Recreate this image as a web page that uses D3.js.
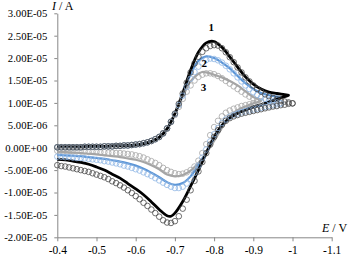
<!DOCTYPE html>
<html><head><meta charset="utf-8">
<script src="https://cdn.jsdelivr.net/npm/d3@7"></script>
<style>html,body{margin:0;padding:0;background:#fff}svg{display:block}</style>
</head><body>
<svg id="c" width="350" height="255"></svg>
<script>
// ---- tick labels ----
const xTickVals = [-0.4,-0.5,-0.6,-0.7,-0.8,-0.9,-1.0,-1.1];
const xTickLabels = ["-0.4","-0.5","-0.6","-0.7","-0.8","-0.9","-1","-1.1"];
const yTickVals = [30,25,20,15,10,5,0,-5,-10,-15,-20]; // in µA
const yTickLabels = ["3.00E-05","2.50E-05","2.00E-05","1.50E-05","1.00E-05","5.00E-06","0.00E+00","-5.00E-06","-1.00E-05","-1.50E-05","-2.00E-05"];
const seriesNames = ["1","2","3"];

// ---- experimental curves (lines): [E / V, I / µA], forward then reverse ----
const blackLine = [[-0.40,0.2],[-0.42,0.2],[-0.44,0.2],[-0.46,0.2],[-0.48,0.3],[-0.50,0.3],[-0.52,0.3],[-0.54,0.4],[-0.56,0.4],[-0.58,0.5],[-0.60,0.6],[-0.62,0.9],[-0.64,1.4],[-0.66,2.3],[-0.68,4.2],[-0.70,7.6],[-0.72,12.2],[-0.74,17.3],[-0.76,21.3],[-0.78,23.4],[-0.80,23.7],[-0.82,22.4],[-0.84,20.3],[-0.86,18.0],[-0.88,15.8],[-0.90,14.2],[-0.92,13.1],[-0.94,12.4],[-0.96,12.1],[-0.98,11.85],[-0.99,11.7],
 [-0.98,11.4],[-0.96,10.8],[-0.94,10.2],[-0.92,9.6],[-0.90,9.1],[-0.88,8.4],[-0.86,7.7],[-0.84,6.6],[-0.82,5.0],[-0.80,2.4],[-0.78,-1.2],[-0.76,-5.0],[-0.74,-8.6],[-0.72,-12.0],[-0.70,-14.6],[-0.69,-15.3],[-0.68,-15.2],[-0.66,-13.8],[-0.64,-12.1],[-0.62,-10.5],[-0.60,-9.2],[-0.58,-8.0],[-0.56,-6.8],[-0.54,-5.9],[-0.52,-5.0],[-0.50,-4.3],[-0.48,-3.7],[-0.46,-3.3],[-0.44,-3.0],[-0.42,-2.7],[-0.40,-2.6]];
const blueLine = [[-0.40,0.2],[-0.42,0.2],[-0.44,0.2],[-0.46,0.2],[-0.48,0.3],[-0.50,0.3],[-0.52,0.3],[-0.54,0.4],[-0.56,0.4],[-0.58,0.5],[-0.60,0.6],[-0.62,0.9],[-0.64,1.4],[-0.66,2.3],[-0.68,4.2],[-0.70,7.6],[-0.72,12.0],[-0.74,16.4],[-0.76,19.4],[-0.78,20.4],[-0.80,20.0],[-0.82,19.0],[-0.84,17.7],[-0.86,16.0],[-0.88,14.4],[-0.90,13.1],[-0.92,12.2],[-0.94,11.7],[-0.96,11.4],[-0.97,11.2],
 [-0.96,10.9],[-0.94,10.3],[-0.92,9.7],[-0.90,9.2],[-0.88,8.6],[-0.86,7.9],[-0.84,6.8],[-0.82,5.0],[-0.80,2.2],[-0.78,-1.0],[-0.76,-3.9],[-0.74,-6.4],[-0.72,-7.9],[-0.70,-8.3],[-0.68,-7.7],[-0.66,-6.6],[-0.64,-5.6],[-0.62,-4.7],[-0.60,-4.0],[-0.58,-3.5],[-0.56,-3.1],[-0.54,-2.8],[-0.52,-2.5],[-0.50,-2.3],[-0.48,-2.1],[-0.46,-1.9],[-0.44,-1.8],[-0.42,-1.7],[-0.40,-1.6]];
const grayLine = [[-0.40,0.2],[-0.42,0.2],[-0.44,0.2],[-0.46,0.2],[-0.48,0.3],[-0.50,0.3],[-0.52,0.3],[-0.54,0.4],[-0.56,0.4],[-0.58,0.5],[-0.60,0.6],[-0.62,0.9],[-0.64,1.4],[-0.66,2.3],[-0.68,4.2],[-0.70,7.5],[-0.72,11.4],[-0.74,14.8],[-0.76,16.5],[-0.77,16.9],[-0.78,16.8],[-0.80,16.3],[-0.82,15.7],[-0.84,14.9],[-0.86,13.9],[-0.88,12.6],[-0.90,11.3],[-0.92,10.5],
 [-0.90,9.9],[-0.88,9.2],[-0.86,8.4],[-0.84,6.9],[-0.82,4.4],[-0.80,1.5],[-0.78,-1.2],[-0.76,-3.4],[-0.74,-5.1],[-0.72,-6.1],[-0.70,-6.4],[-0.68,-6.0],[-0.66,-4.8],[-0.64,-3.9],[-0.62,-3.2],[-0.60,-2.7],[-0.58,-2.4],[-0.56,-2.1],[-0.54,-1.9],[-0.52,-1.7],[-0.50,-1.5],[-0.48,-1.35],[-0.46,-1.2],[-0.44,-1.1],[-0.42,-1.0],[-0.40,-0.9]];

// ---- simulated curves (open circles) ----
const simE = [-0.40,-0.41,-0.42,-0.43,-0.44,-0.45,-0.46,-0.47,-0.48,-0.49,-0.50,-0.51,-0.52,-0.53,-0.54,-0.55,-0.56,-0.57,-0.58,-0.59,-0.60,-0.61,-0.62,-0.63,-0.64,-0.65,-0.66,-0.67,-0.68,-0.69,-0.70,-0.71,-0.72,-0.73,-0.74,-0.75,-0.76,-0.77,-0.78,-0.79,-0.80,-0.81,-0.82,-0.83,-0.84,-0.85,-0.86,-0.87,-0.88,-0.89,-0.90,-0.91,-0.92,-0.93,-0.94,-0.95,-0.96,-0.97,-0.98,-0.99,-1.00];
// forward: from -0.40 outwards; reverse: from switching potential back to -0.40 (µA)
const blackSimFwd = [0.1,0.1,0.1,0.1,0.1,0.1,0.1,0.2,0.2,0.2,0.2,0.2,0.3,0.3,0.3,0.4,0.4,0.5,0.5,0.6,0.7,0.8,1.0,1.2,1.5,1.9,2.4,3.2,4.3,
 5.8,7.6,9.8,12.1,14.5,16.8,18.8,20.3,21.4,22.2,22.7,22.9,22.8,22.2,21.3,20.2,19.1,17.9,16.8,15.7,14.8,13.9,13.1,12.5,11.9,11.5,11.1,10.8,10.5,10.3,10.1,9.9];
const blackSimRev = [9.9,9.8,9.6,9.5,9.3,9.2,9.0,8.8,8.6,8.4,8.2,8.0,7.8,7.6,7.3,7.0,6.6,6.0,5.1,3.9,2.4,0.7,-1.2,-3.2,-5.3,-7.4,-9.5,-11.6,-13.6,-15.3,
 -16.4,-16.8,-16.7,-16.2,-15.4,-14.6,-13.8,-13.0,-12.3,-11.5,-10.8,-10.1,-9.5,-8.9,-8.4,-7.9,-7.5,-7.0,-6.6,-6.3,-6.0,-5.7,-5.4,-5.2,-5.0,-4.8,-4.6,-4.4,-4.2,-4.1,-3.9];
const blueSimFwd = [0.1,0.1,0.1,0.1,0.1,0.1,0.1,0.2,0.2,0.2,0.2,0.2,0.3,0.3,0.3,0.4,0.4,0.5,0.5,0.6,0.7,0.8,1.0,1.2,1.5,1.9,2.4,3.2,4.3,
 5.8,7.5,9.5,11.6,13.6,15.4,16.9,18.1,19.0,19.6,19.9,19.8,19.5,19.0,18.3,17.5,16.6,15.7,14.8,13.9,13.1,12.4,11.8,11.3,10.9,10.6,10.3,10.1,9.9];
const blueSimRev = [9.9,9.7,9.5,9.3,9.1,8.9,8.7,8.5,8.3,8.1,7.9,7.6,7.3,6.9,6.3,5.5,4.4,3.0,1.4,-0.4,
 -2.2,-4.0,-5.6,-7.0,-8.0,-8.7,-9.0,-9.0,-8.7,-8.3,-7.8,-7.3,-6.8,-6.3,-5.9,-5.5,-5.1,-4.8,-4.5,-4.2,
 -4.0,-3.7,-3.5,-3.3,-3.1,-3.0,-2.8,-2.7,-2.6,-2.5,-2.4,-2.3,-2.3,-2.2,-2.1,-2.1,-2.0,-2.0];
const graySimFwd = [0.1,0.1,0.1,0.1,0.1,0.1,0.1,0.2,0.2,0.2,0.2,0.2,0.3,0.3,0.3,0.4,0.4,0.5,0.5,0.6,0.7,0.8,1.0,1.2,1.5,1.9,2.4,3.2,4.3,
 5.7,7.3,9.1,10.9,12.5,13.9,15.0,15.8,16.3,16.6,16.6,16.4,16.0,15.5,14.9,14.3,13.7,13.1,12.5,11.9,11.4,11.0,10.6,10.3];
const graySimRev = [10.3,10.1,9.9,9.7,9.5,9.3,9.0,8.7,8.3,7.8,7.0,6.0,4.6,2.8,0.8,-1.2,-2.9,-4.2,-5.0,-5.5,
 -5.8,-5.9,-5.7,-5.4,-5.0,-4.5,-3.9,-3.4,-3.0,-2.6,-2.2,-1.9,-1.7,-1.5,-1.4,-1.3,-1.2,-1.2,-1.1,-1.1,
 -1.0,-1.0,-0.9,-0.9,-0.9,-0.8,-0.8,-0.8,-0.8,-0.7,-0.7,-0.7,-0.7];

// ---- drawing ----
const svg = d3.select("#c");
const x = d3.scaleLinear().domain([-0.4,-1.1]).range([57.3,331.7]);
const y = d3.scaleLinear().domain([-20,30]).range([237.3,13.3]);
const serif = "'Liberation Serif','Times New Roman',serif";
const axisColor = "#888";

const yAxis = svg.append("g").attr("transform","translate(57.3,0)")
  .call(d3.axisLeft(y).tickValues(yTickVals).tickFormat((d,i)=>yTickLabels[i]).tickSize(3).tickSizeOuter(0).tickPadding(7));
const xAxis = svg.append("g").attr("transform","translate(0,237.3)")
  .call(d3.axisBottom(x).tickValues(xTickVals).tickFormat((d,i)=>xTickLabels[i]).tickSize(4).tickSizeOuter(0).tickPadding(5));
[yAxis,xAxis].forEach(g=>{
  g.select(".domain").attr("stroke",axisColor).attr("stroke-width",1);
  g.selectAll(".tick line").attr("stroke",axisColor);
  g.selectAll(".tick text").attr("fill","#000").style("font-family",serif);
});
yAxis.selectAll(".tick text").style("font-size","10.7px");
xAxis.selectAll(".tick text").style("font-size","11.5px");

function simPoints(E, fwd, rev){
  const pts = fwd.map((v,i)=>[E[i],v]);
  const n = fwd.length;
  rev.forEach((v,i)=>pts.push([E[n-1-i],v]));
  return pts;
}
const lineGen = d3.line().x(d=>x(d[0])).y(d=>y(d[1])).curve(d3.curveCatmullRom.alpha(0.5));

const lines = [
  {data:grayLine, color:"#a5a5a5", w:2.2},
  {data:blueLine, color:"#5b95d6", w:2.2},
  {data:blackLine, color:"#000", w:2.8}
];
lines.forEach(s=>{
  svg.append("path").datum(s.data).attr("d",lineGen).attr("fill","none")
    .attr("stroke",s.color).attr("stroke-width",s.w).attr("stroke-linejoin","round");
});

const sims = [
  {data:simPoints(simE,graySimFwd,graySimRev), color:"#a6a6a6"},
  {data:simPoints(simE,blueSimFwd,blueSimRev), color:"#8fb6e4"},
  {data:simPoints(simE,blackSimFwd,blackSimRev), color:"#4a4a4a"}
];
sims.forEach(s=>{
  svg.append("g").selectAll("circle").data(s.data).join("circle")
    .attr("cx",d=>x(d[0])).attr("cy",d=>y(d[1])).attr("r",2.8)
    .attr("fill","none").attr("stroke",s.color).attr("stroke-width",0.8);
});

// axis titles
const t1 = svg.append("text").attr("x",52).attr("y",10).style("font-family",serif).style("font-size","12px");
t1.append("tspan").style("font-style","italic").text("I");
t1.append("tspan").text(" / A");
const t2 = svg.append("text").attr("x",322).attr("y",232).style("font-family",serif).style("font-size","12px");
t2.append("tspan").style("font-style","italic").text("E");
t2.append("tspan").text(" / V");

// series labels (placed near each curve's forward peak)
const labelPos = [[-0.793,26.0],[-0.775,18.0],[-0.773,12.6]];
seriesNames.forEach((n,i)=>{
  svg.append("text").attr("x",x(labelPos[i][0])).attr("y",y(labelPos[i][1]))
    .attr("text-anchor","middle").style("font-family",serif).style("font-size","11px")
    .style("font-weight","bold").text(n);
});
</script>
</body></html>
